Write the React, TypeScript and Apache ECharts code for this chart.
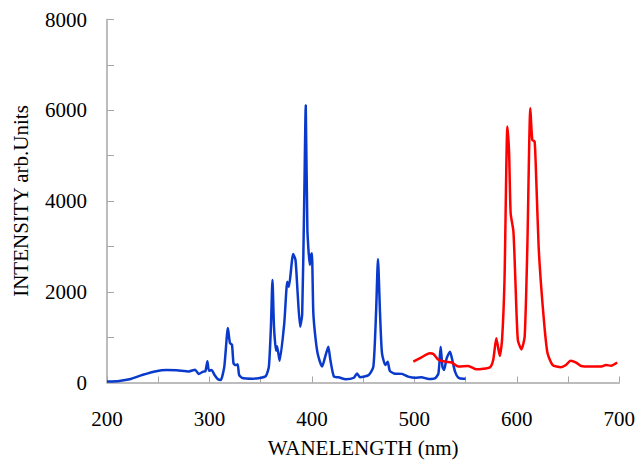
import React, { useEffect, useRef } from "react";
import * as echarts from "echarts";

const blueX = [200, 212, 222, 235, 248, 258, 268, 280, 286, 289.5, 294, 296, 298, 299.5, 302, 305, 308, 311, 314.5, 318, 320, 322, 323.5, 325.5, 327.5, 329, 332, 342, 349, 355, 358, 360, 361.5, 363, 365, 366, 368.5, 373, 376, 377.5, 381.7, 384, 386, 388.5, 390.5, 392.5, 394, 395.6, 398, 399, 400, 401.4, 403.7, 406, 410, 413, 416, 418, 421.5, 426, 433, 441, 444, 447, 455.5, 460, 462.6, 464.5, 466.5, 468.4, 471.7, 474, 476, 480, 488, 494, 501, 507, 514, 520, 523.5, 525.7, 527.4, 529, 531.5, 534.8, 537, 539.7, 543, 548, 550];
const blueY = [20, 35, 70, 170, 250, 275, 270, 245, 280, 190, 240, 245, 470, 260, 275, 165, 77, 55, 350, 1200, 870, 830, 420, 385, 400, 165, 100, 85, 100, 140, 350, 1230, 2260, 1230, 700, 800, 480, 1300, 2220, 2110, 2830, 2700, 2000, 1230, 1500, 4000, 6110, 3360, 2590, 2800, 2850, 1530, 940, 600, 350, 570, 790, 500, 130, 115, 70, 105, 200, 115, 165, 350, 1525, 2720, 1525, 645, 385, 460, 260, 200, 190, 130, 105, 115, 77, 90, 200, 790, 350, 275, 530, 680, 500, 240, 105, 85, 85];

const redX = [499, 507, 515, 518.6, 523.5, 530, 536.4, 543, 552.6, 560.7, 573.7, 577, 580, 583.4, 585.6, 588, 590.8, 592.5, 594, 596.7, 598.6, 601, 604.5, 607.7, 610.3, 613.2, 615.1, 617.4, 619, 621.3, 623.8, 627, 630, 635, 643, 648, 652.4, 658, 662.7, 672.4, 682, 687, 692, 698];
const redY = [460, 555, 645, 630, 500, 460, 440, 350, 365, 290, 335, 500, 975, 585, 940, 2260, 5640, 5050, 3730, 3325, 2260, 940, 730, 1010, 3000, 6045, 5350, 5310, 4465, 3000, 2110, 1230, 645, 385, 335, 385, 480, 440, 365, 350, 350, 385, 370, 440];

const xTickLabels = [200, 300, 400, 500, 600, 700];
const yTickLabels = [0, 2000, 4000, 6000, 8000];

const FONT = "'Liberation Serif', 'Times New Roman', serif";

export default function App() {
  const ref = useRef<HTMLDivElement>(null);
  useEffect(() => {
    if (!ref.current) return;
    const chart = echarts.init(ref.current, null, { renderer: "svg" });
    const axisGray = "#a6a6a6";
    chart.setOption({
      animation: false,
      backgroundColor: "#ffffff",
      grid: {
        left: 107,
        right: 16,
        top: 19.5,
        bottom: 78.5,
        containLabel: false,
        outerBoundsContain: "axisLabel",
      },
      xAxis: {
        type: "value",
        min: 200,
        max: 700,
        interval: 50,
        name: "WANELENGTH (nm)",
        nameLocation: "middle",
        nameGap: 55,
        nameTextStyle: { fontFamily: FONT, fontSize: 21, color: "#000" },
        axisLine: { show: true, lineStyle: { color: axisGray, width: 1.5 } },
        axisTick: { show: true, inside: true, length: 6, lineStyle: { color: axisGray, width: 1 } },
        axisLabel: {
          fontFamily: FONT,
          fontSize: 21,
          color: "#000",
          margin: 26,
          formatter: (v: number) => (xTickLabels.includes(v) ? String(v) : ""),
        },
        splitLine: { show: false },
      },
      yAxis: {
        type: "value",
        min: 0,
        max: 8000,
        interval: 1000,
        name: "INTENSITY arb.Units",
        nameLocation: "middle",
        nameGap: 76,
        nameRotate: 90,
        nameTextStyle: { fontFamily: FONT, fontSize: 21, color: "#000" },
        axisLine: { show: true, lineStyle: { color: axisGray, width: 1.5 } },
        axisTick: { show: true, inside: true, length: 7, lineStyle: { color: axisGray, width: 1 } },
        axisLabel: {
          fontFamily: FONT,
          fontSize: 21,
          color: "#000",
          margin: 20,
          formatter: (v: number) => (yTickLabels.includes(v) ? String(v) : ""),
        },
        splitLine: { show: false },
      },
      series: [
        {
          type: "line",
          data: blueX.map((x, i) => [x, blueY[i]]),
          showSymbol: false,
          smooth: 0.2,
          lineStyle: { color: "#0a3acc", width: 2.5 },
        },
        {
          type: "line",
          data: redX.map((x, i) => [x, redY[i]]),
          showSymbol: false,
          smooth: 0.2,
          lineStyle: { color: "#ff0000", width: 2.5 },
        },
      ],
    });
    return () => chart.dispose();
  }, []);
  return (
    <div
      ref={ref}
      style={{ position: "fixed", left: 0, top: 0, width: 638, height: 461, background: "#fff" }}
    />
  );
}
